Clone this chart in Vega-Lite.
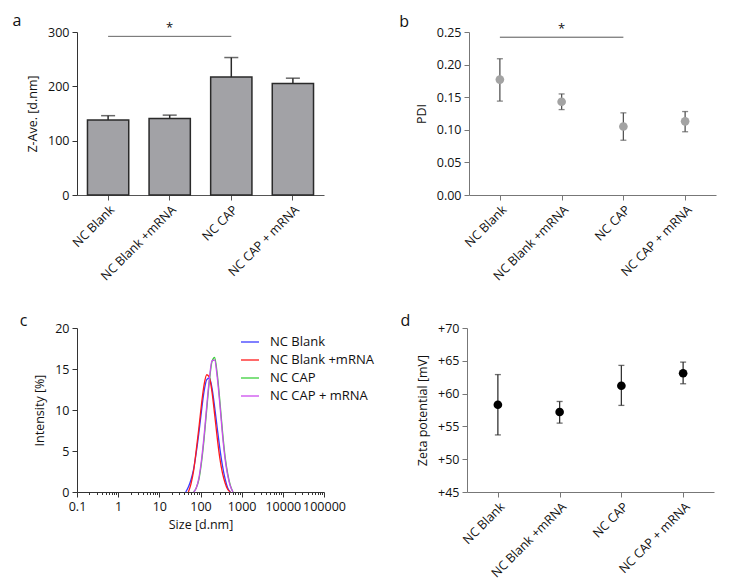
{
  "$schema": "https://vega.github.io/schema/vega-lite/v6.json",
  "background": "white",
  "padding": {"left": 12, "top": 13, "right": 5, "bottom": 5},
  "config": {
    "font": "Open Sans",
    "view": {"stroke": null},
    "axis": {"labelFontSize": 12.5, "titleFontSize": 12.5, "titleFontWeight": "normal", "labelColor": "#111", "titleColor": "#111", "domainColor": "#777", "tickColor": "#777", "grid": false, "tickSize": 5, "labelPadding": 3, "labelOverlap": false},
    "title": {"anchor": "start", "frame": "bounds", "fontSize": 16, "fontWeight": "normal", "color": "#111", "offset": 2}
  },
  "resolve": {"legend": {"color": "independent"}},
  "datasets": {
    "groups": [
      {"group": "NC Blank", "z": 138, "zhi": 146, "pdi": 0.177, "pdilo": 0.144, "pdihi": 0.209, "zeta": 58.3, "zetalo": 53.7, "zetahi": 62.9},
      {"group": "NC Blank +mRNA", "z": 141, "zhi": 147, "pdi": 0.143, "pdilo": 0.131, "pdihi": 0.155, "zeta": 57.2, "zetalo": 55.5, "zetahi": 58.8},
      {"group": "NC CAP", "z": 217, "zhi": 253, "pdi": 0.105, "pdilo": 0.084, "pdihi": 0.126, "zeta": 61.2, "zetalo": 58.2, "zetahi": 64.3},
      {"group": "NC CAP + mRNA", "z": 205, "zhi": 215, "pdi": 0.113, "pdilo": 0.097, "pdihi": 0.128, "zeta": 63.1, "zetalo": 61.5, "zetahi": 64.8}
    ],
    "sigA": [{"x1": "NC Blank", "x2": "NC CAP", "xm": "NC Blank +mRNA", "y": 292, "label": "*"}],
    "sigB": [{"x1": "NC Blank", "x2": "NC CAP", "xm": "NC Blank +mRNA", "y": 0.242, "label": "*"}],
    "dls": [
      {"sample": "NC Blank", "size": 43.82, "intensity": 0},
      {"sample": "NC Blank", "size": 50.75, "intensity": 0.6},
      {"sample": "NC Blank", "size": 58.77, "intensity": 1.5},
      {"sample": "NC Blank", "size": 68.06, "intensity": 2.8},
      {"sample": "NC Blank", "size": 78.82, "intensity": 4.8},
      {"sample": "NC Blank", "size": 91.28, "intensity": 7.2},
      {"sample": "NC Blank", "size": 105.7, "intensity": 9.9},
      {"sample": "NC Blank", "size": 122.4, "intensity": 12.3},
      {"sample": "NC Blank", "size": 141.8, "intensity": 13.7},
      {"sample": "NC Blank", "size": 164.2, "intensity": 13.9},
      {"sample": "NC Blank", "size": 190.1, "intensity": 12.7},
      {"sample": "NC Blank", "size": 220.2, "intensity": 10.4},
      {"sample": "NC Blank", "size": 255.0, "intensity": 7.8},
      {"sample": "NC Blank", "size": 295.3, "intensity": 5.3},
      {"sample": "NC Blank", "size": 342.0, "intensity": 3.2},
      {"sample": "NC Blank", "size": 396.1, "intensity": 1.6},
      {"sample": "NC Blank", "size": 458.7, "intensity": 0.5},
      {"sample": "NC Blank", "size": 531.2, "intensity": 0},
      {"sample": "NC Blank +mRNA", "size": 50.75, "intensity": 0},
      {"sample": "NC Blank +mRNA", "size": 58.77, "intensity": 1.0},
      {"sample": "NC Blank +mRNA", "size": 68.06, "intensity": 2.6},
      {"sample": "NC Blank +mRNA", "size": 78.82, "intensity": 5.1},
      {"sample": "NC Blank +mRNA", "size": 91.28, "intensity": 7.8},
      {"sample": "NC Blank +mRNA", "size": 105.7, "intensity": 10.7},
      {"sample": "NC Blank +mRNA", "size": 122.4, "intensity": 13.1},
      {"sample": "NC Blank +mRNA", "size": 141.8, "intensity": 14.3},
      {"sample": "NC Blank +mRNA", "size": 164.2, "intensity": 14.0},
      {"sample": "NC Blank +mRNA", "size": 190.1, "intensity": 12.2},
      {"sample": "NC Blank +mRNA", "size": 220.2, "intensity": 9.5},
      {"sample": "NC Blank +mRNA", "size": 255.0, "intensity": 6.6},
      {"sample": "NC Blank +mRNA", "size": 295.3, "intensity": 4.1},
      {"sample": "NC Blank +mRNA", "size": 342.0, "intensity": 2.3},
      {"sample": "NC Blank +mRNA", "size": 396.1, "intensity": 1.1},
      {"sample": "NC Blank +mRNA", "size": 458.7, "intensity": 0.3},
      {"sample": "NC Blank +mRNA", "size": 531.2, "intensity": 0},
      {"sample": "NC CAP", "size": 68.06, "intensity": 0},
      {"sample": "NC CAP", "size": 78.82, "intensity": 0.5},
      {"sample": "NC CAP", "size": 91.28, "intensity": 1.5},
      {"sample": "NC CAP", "size": 105.7, "intensity": 3.6},
      {"sample": "NC CAP", "size": 122.4, "intensity": 6.5},
      {"sample": "NC CAP", "size": 141.8, "intensity": 10.1},
      {"sample": "NC CAP", "size": 164.2, "intensity": 13.5},
      {"sample": "NC CAP", "size": 190.1, "intensity": 15.9},
      {"sample": "NC CAP", "size": 220.2, "intensity": 16.4},
      {"sample": "NC CAP", "size": 255.0, "intensity": 14.4},
      {"sample": "NC CAP", "size": 295.3, "intensity": 11.1},
      {"sample": "NC CAP", "size": 342.0, "intensity": 7.4},
      {"sample": "NC CAP", "size": 396.1, "intensity": 4.3},
      {"sample": "NC CAP", "size": 458.7, "intensity": 2.2},
      {"sample": "NC CAP", "size": 531.2, "intensity": 0.8},
      {"sample": "NC CAP", "size": 615.1, "intensity": 0},
      {"sample": "NC CAP + mRNA", "size": 68.06, "intensity": 0},
      {"sample": "NC CAP + mRNA", "size": 78.82, "intensity": 0.5},
      {"sample": "NC CAP + mRNA", "size": 91.28, "intensity": 1.7},
      {"sample": "NC CAP + mRNA", "size": 105.7, "intensity": 3.9},
      {"sample": "NC CAP + mRNA", "size": 122.4, "intensity": 6.9},
      {"sample": "NC CAP + mRNA", "size": 141.8, "intensity": 10.5},
      {"sample": "NC CAP + mRNA", "size": 164.2, "intensity": 13.8},
      {"sample": "NC CAP + mRNA", "size": 190.1, "intensity": 16.0},
      {"sample": "NC CAP + mRNA", "size": 220.2, "intensity": 16.1},
      {"sample": "NC CAP + mRNA", "size": 255.0, "intensity": 14.0},
      {"sample": "NC CAP + mRNA", "size": 295.3, "intensity": 10.7},
      {"sample": "NC CAP + mRNA", "size": 342.0, "intensity": 7.0},
      {"sample": "NC CAP + mRNA", "size": 396.1, "intensity": 4.0},
      {"sample": "NC CAP + mRNA", "size": 458.7, "intensity": 2.0},
      {"sample": "NC CAP + mRNA", "size": 531.2, "intensity": 0.7},
      {"sample": "NC CAP + mRNA", "size": 615.1, "intensity": 0}
    ]
  },
  "vconcat": [
    {
      "hconcat": [
        {
          "width": 247, "height": 163,
          "title": {"text": "a", "dx": -14, "dy": 9},
          "layer": [
            {
              "data": {"name": "groups"},
              "mark": {"type": "bar", "fill": "#a2a2a6", "stroke": "#2a2a2a", "strokeWidth": 1.5},
              "encoding": {
                "x": {"field": "group", "type": "nominal", "sort": null, "title": null,
                      "scale": {"paddingInner": 0.33, "paddingOuter": 0.17},
                      "axis": {"labelAngle": -45, "domainColor": "#555", "tickColor": "#555"}},
                "y": {"field": "z", "type": "quantitative", "title": "Z-Ave. [d.nm]",
                      "scale": {"domain": [0, 300], "nice": false},
                      "axis": {"values": [0, 100, 200, 300], "tickCount": 10, "titlePadding": 8, "domainColor": "#333", "tickColor": "#333"}}
              }
            },
            {
              "data": {"name": "groups"},
              "mark": {"type": "rule", "color": "#2a2a2a", "strokeWidth": 1.5},
              "encoding": {
                "x": {"field": "group", "type": "nominal", "sort": null},
                "y": {"field": "z", "type": "quantitative"},
                "y2": {"field": "zhi"}
              }
            },
            {
              "data": {"name": "groups"},
              "mark": {"type": "tick", "color": "#2a2a2a", "size": 14, "thickness": 1.5},
              "encoding": {
                "x": {"field": "group", "type": "nominal", "sort": null},
                "y": {"field": "zhi", "type": "quantitative"}
              }
            },
            {
              "data": {"name": "sigA"},
              "mark": {"type": "rule", "color": "#666", "strokeWidth": 1},
              "encoding": {
                "x": {"field": "x1", "type": "nominal", "sort": null},
                "x2": {"field": "x2"},
                "y": {"field": "y", "type": "quantitative"}
              }
            },
            {
              "data": {"name": "sigA"},
              "mark": {"type": "text", "fontSize": 13, "baseline": "bottom", "dy": -1, "color": "#111"},
              "encoding": {
                "x": {"field": "xm", "type": "nominal", "sort": null},
                "y": {"field": "y", "type": "quantitative"},
                "text": {"field": "label"}
              }
            }
          ]
        },
        {
          "width": 247, "height": 163,
          "title": {"text": "b", "dx": -16, "dy": 9},
          "layer": [
            {
              "data": {"name": "groups"},
              "mark": {"type": "rule", "color": "#555", "strokeWidth": 1.3},
              "encoding": {
                "x": {"field": "group", "type": "nominal", "sort": null, "title": null,
                      "scale": {"type": "point", "padding": 0.5},
                      "axis": {"labelAngle": -45}},
                "y": {"field": "pdilo", "type": "quantitative", "title": "PDI",
                      "scale": {"domain": [0, 0.25], "nice": false},
                      "axis": {"values": [0, 0.05, 0.1, 0.15, 0.2, 0.25], "tickCount": 10, "format": ".2f", "titlePadding": 8}},
                "y2": {"field": "pdihi"}
              }
            },
            {
              "data": {"name": "groups"},
              "mark": {"type": "tick", "color": "#555", "size": 6, "thickness": 1.3},
              "encoding": {
                "x": {"field": "group", "type": "nominal", "sort": null},
                "y": {"field": "pdilo", "type": "quantitative"}
              }
            },
            {
              "data": {"name": "groups"},
              "mark": {"type": "tick", "color": "#555", "size": 6, "thickness": 1.3},
              "encoding": {
                "x": {"field": "group", "type": "nominal", "sort": null},
                "y": {"field": "pdihi", "type": "quantitative"}
              }
            },
            {
              "data": {"name": "groups"},
              "mark": {"type": "point", "filled": true, "color": "#a3a3a3", "opacity": 1, "size": 75},
              "encoding": {
                "x": {"field": "group", "type": "nominal", "sort": null},
                "y": {"field": "pdi", "type": "quantitative"}
              }
            },
            {
              "data": {"name": "sigB"},
              "mark": {"type": "rule", "color": "#555", "strokeWidth": 1},
              "encoding": {
                "x": {"field": "x1", "type": "nominal", "sort": null},
                "x2": {"field": "x2"},
                "y": {"field": "y", "type": "quantitative"}
              }
            },
            {
              "data": {"name": "sigB"},
              "mark": {"type": "text", "fontSize": 13, "baseline": "bottom", "dy": -1, "color": "#111"},
              "encoding": {
                "x": {"field": "xm", "type": "nominal", "sort": null},
                "y": {"field": "y", "type": "quantitative"},
                "text": {"field": "label"}
              }
            }
          ]
        }
      ],
      "spacing": 75
    },
    {
      "resolve": {"legend": {"color": "independent"}},
      "hconcat": [
        {
          "width": 247, "height": 164,
          "title": {"text": "c", "dx": -14, "dy": 9},
          "data": {"name": "dls"},
          "mark": {"type": "line", "strokeWidth": 1.3, "interpolate": "monotone"},
          "encoding": {
            "x": {"field": "size", "type": "quantitative", "title": "Size [d.nm]",
                  "scale": {"type": "log", "domain": [0.1, 100000], "nice": false},
                  "axis": {
                    "values": [0.1, 0.2, 0.3, 0.4, 0.5, 0.6, 0.7, 0.8, 0.9, 1, 2, 3, 4, 5, 6, 7, 8, 9, 10, 20, 30, 40, 50, 60, 70, 80, 90, 100, 200, 300, 400, 500, 600, 700, 800, 900, 1000, 2000, 3000, 4000, 5000, 6000, 7000, 8000, 9000, 10000, 20000, 30000, 40000, 50000, 60000, 70000, 80000, 90000, 100000],
                    "tickCount": 100,
                    "format": "~g",
                    "labelExpr": "indexof([0.1, 1, 10, 100, 1000, 10000, 100000], datum.value) >= 0 ? datum.label : ''",
                    "labelFlush": false,
                    "domainColor": "#333", "tickColor": "#333",
                    "tickSize": {"condition": {"test": "indexof([0.1, 1, 10, 100, 1000, 10000, 100000], datum.value) >= 0", "value": 5}, "value": 2.5},
                    "titlePadding": 6
                  }},
            "y": {"field": "intensity", "type": "quantitative", "title": "Intensity [%]",
                  "scale": {"domain": [0, 20], "nice": false},
                  "axis": {"values": [0, 5, 10, 15, 20], "tickCount": 10, "titlePadding": 8, "domainColor": "#333", "tickColor": "#333"}},
            "color": {"field": "sample", "type": "nominal", "title": null,
                      "scale": {"domain": ["NC Blank", "NC Blank +mRNA", "NC CAP", "NC CAP + mRNA"],
                                "range": ["#3b3bff", "#ff1a1a", "#3ccf3c", "#cc4dee"]},
                      "legend": {"orient": "none", "legendX": 163, "legendY": 4, "symbolType": "stroke", "symbolSize": 324, "symbolStrokeWidth": 1.3, "labelFontSize": 13, "labelColor": "#111", "rowPadding": 1, "labelOffset": 10}}
          }
        },
        {
          "width": 247, "height": 164,
          "title": {"text": "d", "dx": -16, "dy": 9},
          "layer": [
            {
              "data": {"name": "groups"},
              "mark": {"type": "rule", "color": "#333", "strokeWidth": 1.3},
              "encoding": {
                "x": {"field": "group", "type": "nominal", "sort": null, "title": null,
                      "scale": {"type": "point", "padding": 0.5},
                      "axis": {"labelAngle": -45}},
                "y": {"field": "zetalo", "type": "quantitative", "title": "Zeta potential [mV]",
                      "scale": {"domain": [45, 70], "nice": false, "zero": false},
                      "axis": {"values": [45, 50, 55, 60, 65, 70], "tickCount": 10, "labelExpr": "'+' + datum.label", "titlePadding": 8}},
                "y2": {"field": "zetahi"}
              }
            },
            {
              "data": {"name": "groups"},
              "mark": {"type": "tick", "color": "#333", "size": 6, "thickness": 1.3},
              "encoding": {
                "x": {"field": "group", "type": "nominal", "sort": null},
                "y": {"field": "zetalo", "type": "quantitative"}
              }
            },
            {
              "data": {"name": "groups"},
              "mark": {"type": "tick", "color": "#333", "size": 6, "thickness": 1.3},
              "encoding": {
                "x": {"field": "group", "type": "nominal", "sort": null},
                "y": {"field": "zetahi", "type": "quantitative"}
              }
            },
            {
              "data": {"name": "groups"},
              "mark": {"type": "point", "filled": true, "color": "#000", "opacity": 1, "size": 75},
              "encoding": {
                "x": {"field": "group", "type": "nominal", "sort": null},
                "y": {"field": "zeta", "type": "quantitative"}
              }
            }
          ]
        }
      ],
      "spacing": 26
    }
  ],
  "spacing": 30
}
